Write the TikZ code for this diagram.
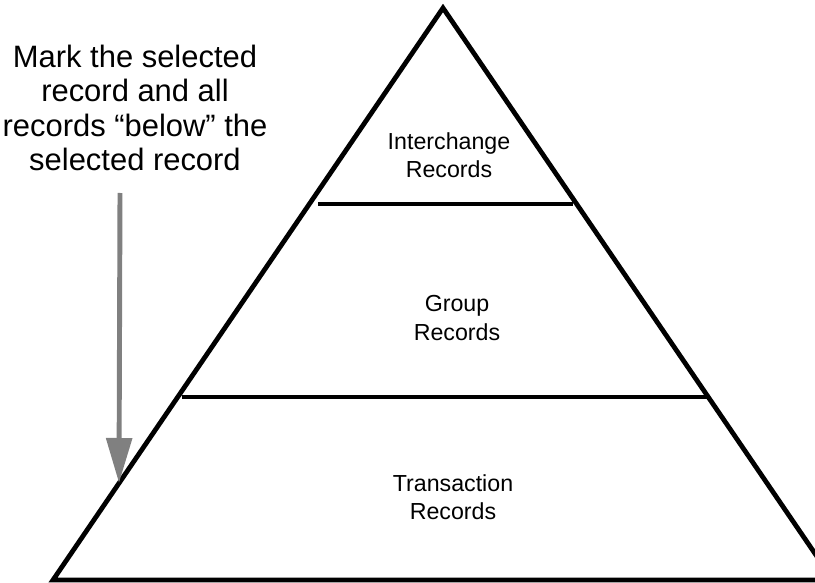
\documentclass[tikz,border=0pt]{standalone}
\usepackage{fontspec}
\setmainfont{Liberation Sans}
\usetikzlibrary{arrows.meta,positioning,calc}

\begin{document}
\begin{tikzpicture}[
    x=0.025cm, y=-0.025cm,
    layer/.style={line width=3.4pt, line cap=butt},
    lvl/.style={align=center, font=\fontsize{16.5}{20}\selectfont},
    note/.style={align=center, font=\fontsize{22}{24.5}\selectfont},
    selarrow/.style={-{Triangle[length=32pt, width=18pt]}, draw=gray, line width=3.5pt, color=gray},
  ]
    \useasboundingbox (0,0) rectangle (815,583);
    \clip (0,0) rectangle (815,583);

    % pyramid
    \coordinate (top) at (443,8);
    \coordinate (bl) at (53,580);
    \coordinate (br) at (833,580);
    \draw[layer, line join=miter] (bl) -- (top) -- (br) -- cycle;
    \coordinate (l1) at (318,204);
    \coordinate (r1) at (573,204);
    \coordinate (l2) at (182,397);
    \coordinate (r2) at (707,397);
    \draw[layer] (l1) -- (r1);
    \draw[layer] (l2) -- (r2);

    \node[lvl] (ic) at (449,155) {Interchange\\Records};
    \node[lvl] (grp) at (457,318) {Group\\Records};
    \node[lvl] (tx) at (453,497) {Transaction\\Records};

    % selection hint
    \node[note] (hint) at (135,108) {Mark the selected\\record and all\\records “below” the\\selected record};
    \coordinate (from) at (120,193);
    \coordinate (to) at (119,483);
    \draw[selarrow] (from) -- (to);
  \end{tikzpicture}
\end{document}
